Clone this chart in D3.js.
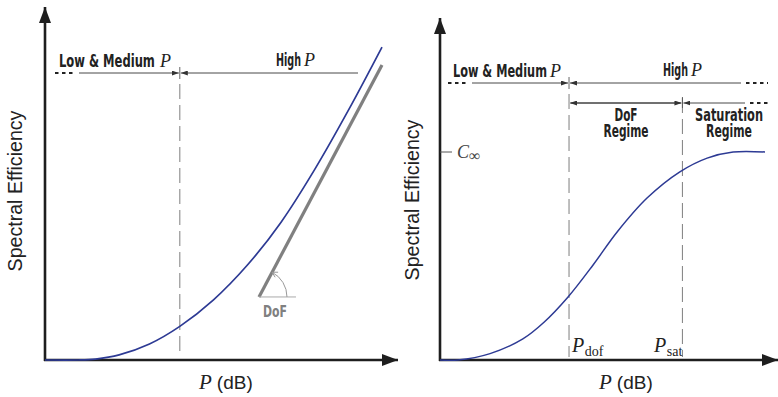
<!DOCTYPE html>
<html><head><meta charset="utf-8">
<script src="https://cdn.jsdelivr.net/npm/d3@7"></script>
<style>body{margin:0;background:#fff}svg{display:block}</style>
</head><body>
<svg id="c" width="778" height="397"></svg>
<script>
// ---- data (arbitrary P / SE units) ----
const leftP  = [0, 1, 1.5, 2.2, 3.1, 4, 5, 6, 7, 8, 9, 10];
const leftSE = [0, 0, 0.03, 0.16, 0.5, 1.05, 1.88, 2.96, 4.3, 5.95, 7.8, 9.78];
const dofP   = [6.35, 10];
const dofSE  = [1.97, 9.22];
const leftBoundary = 4.0;

const rightP  = [0, 0.55, 1.54, 2.55, 3.2, 3.94, 4.71, 5.45, 6.37, 7.38, 8.22, 9.02, 10];
const rightSE = [0, 0, 0.2, 0.66, 1.18, 1.97, 2.97, 4.0, 5.06, 5.88, 6.31, 6.5, 6.5];
const cInf = 6.5;
const pDof = 3.97;
const pSat = 7.46;

const yLabel = "Spectral Efficiency";
const xLabelUnit = "(dB)";

// ---- setup ----
const svg = d3.select("#c");
const defs = svg.append("defs");
function marker(id, len, wid, color) {
  defs.append("marker").attr("id", id).attr("markerUnits", "userSpaceOnUse")
    .attr("viewBox", `0 ${-wid/2} ${len} ${wid}`).attr("refX", len).attr("refY", 0)
    .attr("markerWidth", len).attr("markerHeight", wid).attr("orient", "auto")
    .append("path").attr("d", `M0,${-wid/2}L${len},0L0,${wid/2}Z`).attr("fill", color);
}
marker("big", 16, 12, "#1e1e1e");
marker("small", 7, 5, "#333");

const AX = "#1e1e1e", BLUE = "#2d3a94";
const HAND = "'Liberation Sans Narrow', 'DejaVu Sans Condensed', 'DejaVu Sans', sans-serif";
const SERIF = "Liberation Serif, DejaVu Serif, serif", SANS = "Liberation Sans, Arial, sans-serif";

const xL = d3.scaleLinear().domain([0, 10]).range([45, 382]);
const yL = d3.scaleLinear().domain([0, 10]).range([360, 40]);
const xR = d3.scaleLinear().domain([0, 10]).range([440, 765]);
const yR = d3.scaleLinear().domain([0, 10]).range([360, 40]);

function axes(x, y, xEnd, yEnd) {
  const xa = x.copy().domain([0, x.invert(xEnd)]).range([x(0), xEnd]);
  const ya = y.copy().domain([0, y.invert(yEnd)]).range([y(0), yEnd]);
  const gx = svg.append("g").attr("transform", `translate(0,${y(0)})`)
    .call(d3.axisBottom(xa).tickValues([]).tickSizeOuter(0));
  gx.select(".domain").attr("stroke", AX).attr("stroke-width", 2.6).attr("marker-end", "url(#big)")
    .attr("d", `M${x(0) - 1},0H${xEnd}`);
  const gy = svg.append("g").attr("transform", `translate(${x(0)},0)`)
    .call(d3.axisLeft(ya).tickValues([]).tickSizeOuter(0));
  gy.select(".domain").attr("stroke", AX).attr("stroke-width", 2.6).attr("marker-end", "url(#big)")
    .attr("d", `M0,${y(0) + 1}V${yEnd}`);
}

function arrowTo(xFrom, xTo, y) {
  svg.append("line").attr("x1", xFrom).attr("x2", xTo).attr("y1", y).attr("y2", y)
    .attr("stroke", "#333").attr("stroke-width", 0.9).attr("marker-end", "url(#small)");
}
function dots(x1, x2, y) {
  svg.append("line").attr("x1", x1).attr("x2", x2).attr("y1", y).attr("y2", y)
    .attr("stroke", "#222").attr("stroke-width", 1.8).attr("stroke-dasharray", "3.5,3.5");
}
// handwritten-style label: fit natural width to `len`, stretch vertically to cap height `cap`
function hand(str, x, y, len, cap, anchor, color) {
  const t = svg.append("text").attr("font-family", HAND).attr("font-weight", "bold")
    .attr("font-size", 16).attr("fill", color || "#222")
    .attr("text-anchor", anchor === "middle" ? "middle" : "start").text(str);
  const w = t.node().getComputedTextLength();
  const fs = 16 * len / w;
  t.attr("font-size", fs);
  const sy = cap / (0.73 * fs);
  t.attr("transform", `translate(${x},${y}) scale(1,${sy.toFixed(3)})`);
  return t;
}
function italicP(x, y, size, sub, subSize) {
  const t = svg.append("text").attr("x", x).attr("y", y).attr("font-family", SERIF)
    .attr("font-size", size).attr("fill", "#222");
  t.append("tspan").attr("font-style", "italic").text("P");
  if (sub) t.append("tspan").attr("font-size", subSize).attr("dy", 4).attr("dx", 0.5).text(sub);
  return t;
}
function dashed(x, y1, y2) {
  svg.append("line").attr("x1", x).attr("x2", x).attr("y1", y1).attr("y2", y2)
    .attr("stroke", "#8a8a8a").attr("stroke-width", 1.1).attr("stroke-dasharray", "15,6");
}
function yTitle(cx, cy) {
  svg.append("text").attr("transform", `translate(${cx},${cy}) rotate(-90)`)
    .attr("text-anchor", "middle").attr("font-family", SANS).attr("font-size", 19.6)
    .attr("fill", "#222").text(yLabel);
}
function xTitle(x, y) {
  const t = svg.append("text").attr("x", x).attr("y", y).attr("fill", "#222");
  t.append("tspan").attr("font-family", SERIF).attr("font-style", "italic").attr("font-size", 21).text("P");
  t.append("tspan").attr("font-family", SANS).attr("font-size", 19).attr("dx", 5).text(xLabelUnit);
}
const curve = (x, y) => d3.line().x(d => x(d[0])).y(d => y(d[1])).curve(d3.curveCatmullRom.alpha(0.5));

// ================= LEFT PANEL =================
const bxL = xL(leftBoundary);
dashed(bxL, 84, 357);
svg.append("line").attr("x1", bxL).attr("x2", bxL).attr("y1", 67).attr("y2", 79).attr("stroke", "#555").attr("stroke-width", 0.9);
dots(55, 76, 73);
arrowTo(79, bxL - 1, 73);
arrowTo(358, bxL + 1, 73);
hand("Low & Medium", 59, 67, 96, 13);
italicP(160, 67, 18);
hand("High", 276, 66, 25, 12.5);
italicP(304, 66, 18);

axes(xL, yL, 398, 7);

svg.append("path").datum(dofP.map((p, i) => [p, dofSE[i]]))
  .attr("d", d3.line().x(d => xL(d[0])).y(d => yL(d[1])))
  .attr("stroke", "#808080").attr("stroke-width", 3.2).attr("fill", "none");
svg.append("path").datum(leftP.map((p, i) => [p, leftSE[i]]))
  .attr("d", curve(xL, yL)).attr("stroke", BLUE).attr("stroke-width", 1.7).attr("fill", "none");

// DoF angle
const ox = xL(dofP[0]), oy = yL(dofSE[0]);
const ang = Math.atan2(yL(dofSE[0]) - yL(dofSE[1]), xL(dofP[1]) - xL(dofP[0]));
svg.append("line").attr("x1", ox).attr("x2", ox + 37).attr("y1", oy).attr("y2", oy)
  .attr("stroke", "#aaa").attr("stroke-width", 1);
const r = 28;
const ex = ox + r * Math.cos(ang), ey = oy - r * Math.sin(ang);
svg.append("path").attr("d", `M${ox + r},${oy} A${r},${r} 0 0 0 ${ex},${ey}`)
  .attr("stroke", "#999").attr("stroke-width", 1).attr("fill", "none");
svg.append("path").attr("d", `M${ex},${ey}l3,5M${ex},${ey}l6,0`)
  .attr("stroke", "#999").attr("stroke-width", 1).attr("fill", "none");
hand("DoF", 275, 317, 24, 11, "middle", "#808080");

yTitle(22, 191);
xTitle(199, 389);

// ================= RIGHT PANEL =================
const bDof = xR(pDof), bSat = xR(pSat);
dashed(bDof, 94, 357);
dashed(bSat, 98, 357);
svg.append("line").attr("x1", bDof).attr("x2", bDof).attr("y1", 77).attr("y2", 89).attr("stroke", "#555").attr("stroke-width", 0.9);
svg.append("line").attr("x1", bSat).attr("x2", bSat).attr("y1", 97).attr("y2", 108).attr("stroke", "#555").attr("stroke-width", 0.9);
dots(448, 468, 83);
arrowTo(472, bDof - 1, 83);
arrowTo(741, bDof + 1, 83);
dots(746, 768, 83);
arrowTo(bDof + 2, bSat - 1, 103);
arrowTo(bSat - 2, bDof + 1, 103);
arrowTo(745, bSat + 1, 103);
dots(750, 768, 103);

hand("Low & Medium", 453, 77, 94, 13);
italicP(550, 77, 18);
hand("High", 663, 76, 25, 12.5);
italicP(691, 76, 18);
hand("DoF", 626, 121, 23, 12.5, "middle");
hand("Regime", 626, 137, 45, 12.5, "middle");
hand("Saturation", 729, 121, 68, 12.5, "middle");
hand("Regime", 729, 137, 46, 12.5, "middle");

axes(xR, yR, 778, 18);

// C infinity
svg.append("line").attr("x1", xR(0)).attr("x2", xR(0) + 12).attr("y1", yR(cInf)).attr("y2", yR(cInf))
  .attr("stroke", "#555").attr("stroke-width", 1);
const ct = svg.append("text").attr("x", 457).attr("y", yR(cInf) + 6).attr("font-family", SERIF)
  .attr("font-size", 18).attr("fill", "#444");
ct.append("tspan").attr("font-style", "italic").text("C");
ct.append("tspan").attr("font-size", 16).attr("dy", 3).text("∞");

svg.append("path").datum(rightP.map((p, i) => [p, rightSE[i]]))
  .attr("d", curve(xR, yR)).attr("stroke", BLUE).attr("stroke-width", 1.5).attr("fill", "none");

italicP(bDof + 3, 352, 20, "dof", 14);
italicP(654, 352, 20, "sat", 14);

yTitle(419, 200);
xTitle(599, 389);
</script>
</body></html>
